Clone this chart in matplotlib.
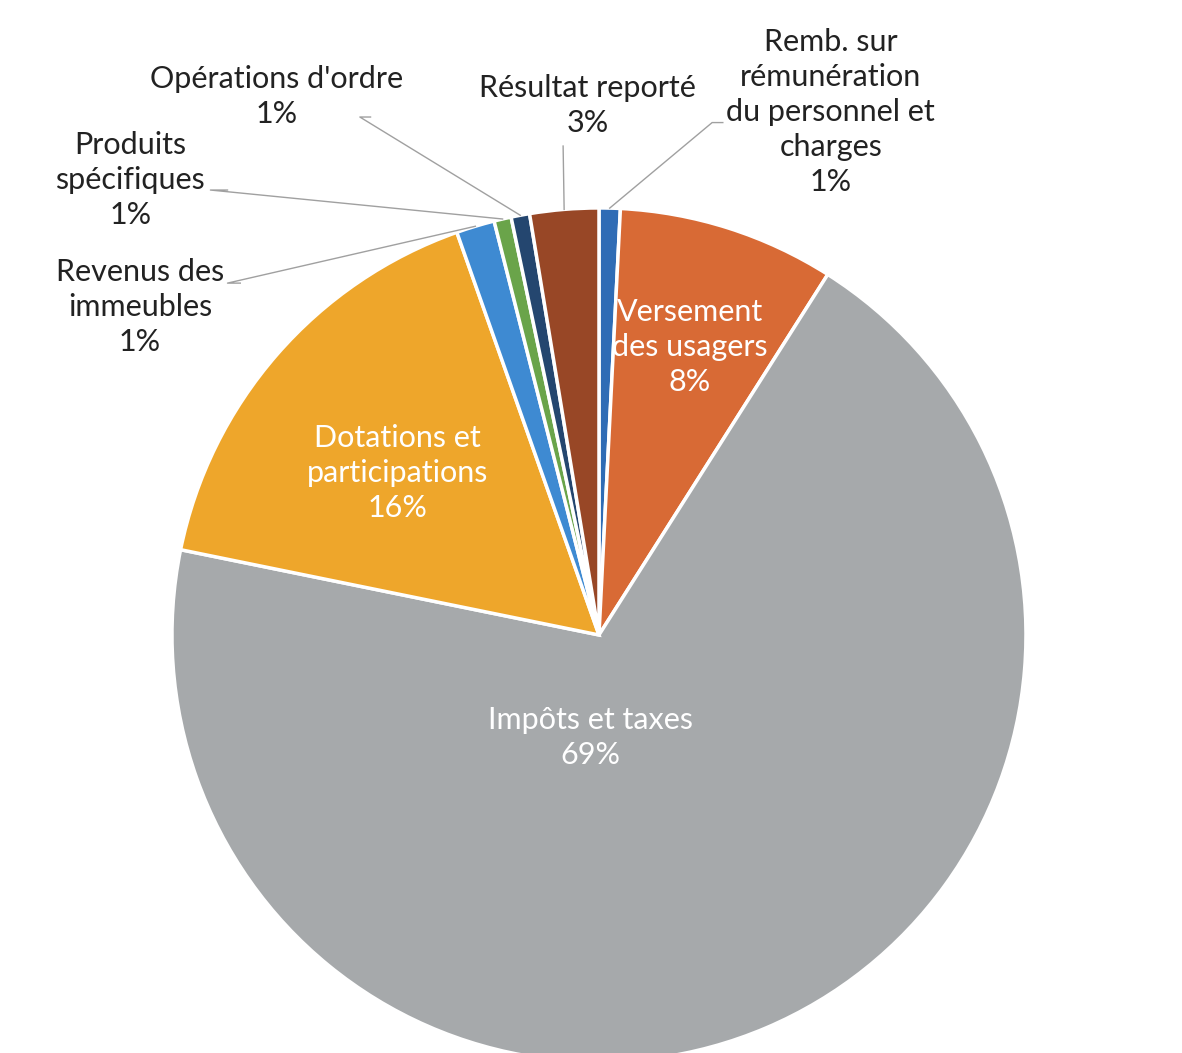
import numpy as np
import matplotlib.pyplot as plt

plt.rcParams['font.family'] = ['Lato', 'DejaVu Sans']

categories = ["Remb. sur\nrémunération\ndu personnel et\ncharges",
              "Versement\ndes usagers",
              "Impôts et taxes",
              "Dotations et\nparticipations",
              "Revenus des\nimmeubles",
              "Produits\nspécifiques",
              "Opérations d'ordre",
              "Résultat reporté"]
shares = [0.8, 8.2, 69.2, 16.4, 1.45, 0.65, 0.7, 2.6]
colors = ['#2f6cb5', '#d86a35', '#a6a9ab', '#eea62b',
          '#3e8ad2', '#6aa44a', '#24466f', '#984726']

# label placement (data coords, radius 1 pie)
inside = {1: (0.213, 0.674), 2: (-0.021, -0.241), 3: (-0.471, 0.379)}
outside = {0: (0.543, 1.225), 4: (-1.075, 0.768), 5: (-1.098, 1.066),
           6: (-0.754, 1.262), 7: (-0.026, 1.239)}
# end points of leader lines (near the labels)
leader_end = {0: [(0.265, 1.20), (0.29, 1.20)],
              4: [(-0.87, 0.824), (-0.84, 0.824)],
              5: [(-0.91, 1.042), (-0.87, 1.042)],
              6: [(-0.56, 1.213), (-0.535, 1.213)],
              7: [(-0.084, 1.145)]}

fig = plt.figure(figsize=(11.82, 10.53), dpi=100)
ax = fig.add_axes([0.1455, -0.0085, 0.7225, 0.811])
wedges, _ = ax.pie(shares, colors=colors, startangle=90, counterclock=False,
                   wedgeprops=dict(edgecolor='white', linewidth=2.5))
ax.set_xlim(-1, 1)
ax.set_ylim(-1, 1)
ax.set_aspect('auto')
ax.axis('off')

for i, w in enumerate(wedges):
    lbl = categories[i] + "\n%d%%" % round(shares[i])
    if i in inside:
        x, y = inside[i]
        ax.text(x, y, lbl, ha='center', va='center', color='white',
                fontsize=22, linespacing=1.3)
    else:
        x, y = outside[i]
        ax.text(x, y, lbl, ha='center', va='center', color='#222222',
                fontsize=22, linespacing=1.3, clip_on=False)
        mid = np.deg2rad((w.theta1 + w.theta2) / 2)
        pts = [(np.cos(mid) * 1.0, np.sin(mid) * 1.0)] + leader_end[i]
        xs, ys = zip(*pts)
        ax.plot(xs, ys, color='#a0a0a0', lw=1, clip_on=False)

fig.savefig('out.png', dpi=100, facecolor='white')
